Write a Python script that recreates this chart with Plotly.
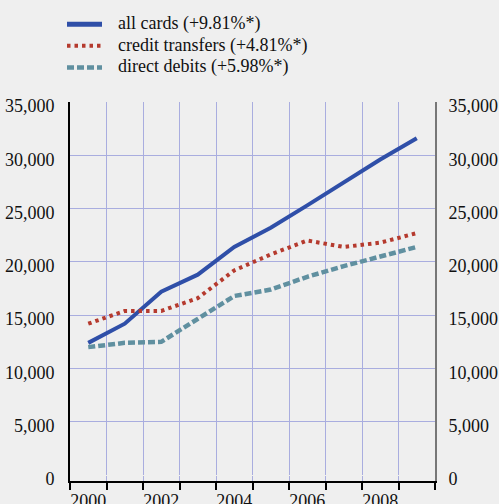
import plotly.graph_objects as go

years = [2000, 2001, 2002, 2003, 2004, 2005, 2006, 2007, 2008, 2009]
all_cards = [12400, 14200, 17200, 18800, 21400, 23200, 25300, 27500, 29600, 31600]
credit_transfers = [14200, 15400, 15400, 16600, 19200, 20700, 22000, 21400, 21800, 22700]
direct_debits = [12000, 12400, 12500, 14700, 16800, 17400, 18600, 19600, 20500, 21400]

series_names = ["all cards (+9.81%*)", "credit transfers (+4.81%*)", "direct debits (+5.98%*)"]
x_tick_labels = ["2000", "2002", "2004", "2006", "2008"]
x_tick_vals = [2000, 2002, 2004, 2006, 2008]
y_tick_vals = [0, 5000, 10000, 15000, 20000, 25000, 30000, 35000]
y_tick_text = ["0", "5,000", "10,000", "15,000", "20,000", "25,000", "30,000", "35,000"]

BG = "#efefef"
GRID = "#a9addf"
BLUE = "#2f4fa8"
RED = "#b53a2e"
TEAL = "#6090a0"
FONT = "Liberation Serif"

styles = [
    dict(color=BLUE, width=4, dash="solid"),
    dict(color=RED, width=4, dash="3.5px,4px"),
    dict(color=TEAL, width=4.5, dash="7px,3px"),
]
data = [all_cards, credit_transfers, direct_debits]

fig = go.Figure()
for name, vals, st in zip(series_names, data, styles):
    fig.add_trace(go.Scatter(x=years, y=vals, mode="lines", name=name,
                             line=st, showlegend=False, hoverinfo="x+y"))

# helper trace so the right-hand value axis is drawn (draws nothing itself)
fig.add_trace(go.Scatter(x=years[:1], y=all_cards[:1], yaxis="y2", mode="lines",
                         line=dict(width=0), showlegend=False, hoverinfo="skip"))

# plot area geometry (pixels) for the manual legend
W, H = 499, 504
L, R, T, B = 70, 64, 102, 23
pw, ph = W - L - R, H - T - B

def px_x(p):
    return (p - L) / pw

def px_y(p):
    return (H - B - p) / ph

legend_rows = [24.3, 45.8, 67.4]
for name, st, yy in zip(series_names, styles, legend_rows):
    fig.add_shape(type="line", xref="paper", yref="paper",
                  x0=px_x(67), x1=px_x(102), y0=px_y(yy), y1=px_y(yy),
                  line=dict(color=st["color"], width=st["width"] + (1 if st["dash"] == "solid" else 0),
                            dash=st["dash"]))
    fig.add_annotation(xref="paper", yref="paper", x=px_x(116), y=px_y(yy - 0.5),
                       text=name, showarrow=False, xanchor="left", yanchor="middle",
                       font=dict(family=FONT, size=18, color="#111"))

fig.update_layout(
    width=W, height=H,
    margin=dict(l=L, r=R, t=T, b=B, pad=0),
    paper_bgcolor=BG, plot_bgcolor=BG,
    font=dict(family=FONT, size=18, color="#111"),
    showlegend=False,
    xaxis=dict(
        range=[1999.5, 2009.5],
        tickmode="array", tickvals=x_tick_vals, ticktext=x_tick_labels,
        ticks="", showgrid=False, zeroline=False,
        showline=True, linecolor="#000", linewidth=2,
        ticklabelstandoff=2,
        automargin=False,
        minor=dict(tick0=1999.5, dtick=1, ticks="outside", ticklen=7, tickcolor="#000",
                   tickwidth=2, showgrid=True, gridcolor=GRID, gridwidth=1),
    ),
    yaxis=dict(
        range=[-560, 35000],
        tickmode="array", tickvals=y_tick_vals, ticktext=y_tick_text,
        ticks="", showgrid=True, gridcolor=GRID, gridwidth=1,
        zeroline=True, zerolinecolor=BG, zerolinewidth=1,
        showline=True, linecolor="#000", linewidth=1.7,
        ticklabelstandoff=10, ticklabelshift=4,
        automargin=False,
    ),
    yaxis2=dict(
        range=[-560, 35000], overlaying="y", side="right",
        tickmode="array", tickvals=y_tick_vals, ticktext=y_tick_text,
        ticks="", showgrid=False, zeroline=False,
        showline=True, linecolor="#777", linewidth=1.7,
        ticklabelstandoff=8, ticklabelshift=4,
        automargin=False,
    ),
)

fig.write_html("out.html", config={"displayModeBar": False})

# remove the browser's default page margin so the figure sits at the window origin
with open("out.html", "r", encoding="utf-8") as f:
    html = f.read()
html = html.replace("<head>", "<head><style>html,body{margin:0;padding:0;overflow:hidden;}</style>", 1)
with open("out.html", "w", encoding="utf-8") as f:
    f.write(html)
